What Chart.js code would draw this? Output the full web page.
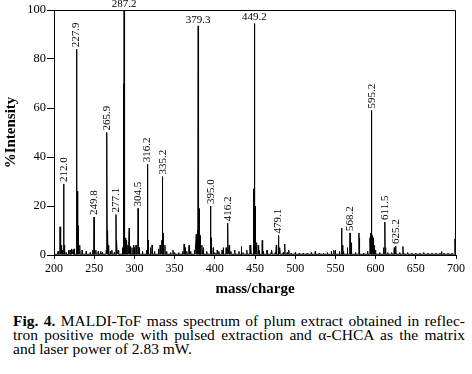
<!DOCTYPE html>
<html lang="en">
<head>
<meta charset="UTF-8">
<title>MALDI-ToF mass spectrum</title>
<script src="https://cdn.jsdelivr.net/npm/chart.js"></script>
<style>
  body { margin: 0; background: #fff; color: #000; font-family: 'Liberation Serif', 'Times New Roman', serif; }
  .chart-box { position: relative; width: 472px; height: 300px; }
  .caption { position: absolute; left: 13px; top: 314px; width: 452px; font-size: 15.5px; line-height: 14px; }
  .caption div { text-align: justify; text-align-last: justify; white-space: nowrap; }
  .caption div.last { text-align-last: left; }
</style>
</head>
<body>
<div class="chart-box"><canvas id="spectrum"></canvas></div>
<div class="caption">
  <div><b>Fig. 4.</b> MALDI-ToF mass spectrum of plum extract obtained in reflec-</div>
  <div>tron positive mode with pulsed extraction and α-CHCA as the matrix</div>
  <div class="last">and laser power of 2.83 mW.</div>
</div>
<script>
// labelled peaks (m/z, %intensity)
const labeledMz  = [212.0, 227.9, 249.8, 265.9, 277.1, 287.2, 304.5, 316.2, 335.2, 379.3, 395.0, 416.2, 449.2, 479.1, 568.2, 595.2, 611.5, 625.2];
const labeledInt = [29, 84, 15.5, 50, 16.5, 100, 19, 37, 32, 93.5, 20, 13, 94.5, 8, 9, 59, 13.5, 3.7];

// unlabelled peaks
const minorMz  = [207.5, 209, 213, 218, 222, 224, 229, 230.5, 232, 248, 252, 258, 266.8, 268, 272, 278,
                  286.5, 287.8, 289, 290.5, 292, 293.5, 297, 299, 302, 306, 317, 320, 322, 332, 334, 336, 338, 348,
                  361.8, 363, 368, 377, 378.5, 380, 381, 382, 384, 386, 396, 398, 403, 409, 410.5, 414, 418, 425,
                  433, 440, 443.8, 445, 448, 450, 451, 452, 454, 459, 465, 471, 476.5, 481, 487, 492, 525, 545, 548,
                  550, 557.7, 559, 565, 570, 579.3, 580, 593, 594, 596, 597, 598.5, 600, 610, 612.5, 623.2, 634,
                  640, 660, 682, 698.7];
const minorInt = [11.5, 4, 4, 2, 2.5, 2, 26, 12, 4, 2, 2, 1.5, 10, 4, 2, 6,
                  70, 50, 7, 6, 4, 11, 3, 4, 4, 3, 6, 3, 4, 4, 6, 9, 4, 2,
                  4.5, 3, 4, 8.5, 10, 60, 19, 8, 4, 3, 7, 3, 2, 2, 3, 3, 4, 2,
                  3.5, 2, 4, 3.5, 27, 20, 8, 5, 4, 6, 2, 2, 4, 3, 4.5, 2, 1.5, 1.5, 2,
                  2, 11, 4, 3, 5, 9, 7, 7, 9, 8, 7, 4, 2, 3, 3, 3, 3.5,
                  1, 1, 1.5, 6.5];

// baseline noise, one value every 5 m/z from 200 to 700
const noiseStart = 200, noiseStep = 5;
const noiseInt = [0.5, 1.5, 2, 1, 2, 2.5, 3, 2, 1.5, 1, 1.5, 1.5, 1, 2, 1.5, 1, 2, 3, 5, 3.5,
                  3, 2, 1.5, 2, 2.5, 1.5, 2.5, 3, 1.5, 1, 1, 1, 1.5, 1.5, 1.5, 2, 3, 2, 1.5, 1.5,
                  1, 1.5, 1, 1.5, 1.5, 1, 1.5, 1, 1.5, 3, 3, 2, 1.5, 1, 1, 1, 1.5, 1, 1, 0.8,
                  1, 0.8, 0.8, 0.8, 1, 1.2, 0.8, 0.8, 1, 1.2, 1.2, 1.5, 1.5, 1.5, 1, 1, 1, 0.8, 1.5, 4,
                  2, 1, 1, 1, 1, 1, 1, 0.8, 0.8, 0.8, 0.8, 0.8, 0.8, 0.8, 0.8, 0.8, 0.8, 0.8, 0.8, 0.8, 0.8];

const serif = "'Liberation Serif', 'Times New Roman', serif";

function spike(m, h) {
    return [{ x: m - 0.4, y: 0.3 }, { x: m, y: h }, { x: m + 0.4, y: 0.3 }];
}

let points = [];
labeledMz.forEach((m, i) => points.push(...spike(m, labeledInt[i])));
minorMz.forEach((m, i) => points.push(...spike(m, minorInt[i])));
noiseInt.forEach((v, i) => points.push(...spike(noiseStart + i * noiseStep, v)));
points.sort((a, b) => a.x - b.x);

// top and right edges of the plot box
const frame = {
    id: "frame",
    afterDraw(chart) {
        const { ctx, chartArea: a } = chart;
        ctx.save();
        ctx.strokeStyle = "#000";
        ctx.lineWidth = 1;
        ctx.beginPath();
        ctx.moveTo(Math.round(a.left) + 0.5, Math.round(a.top) + 0.5);
        ctx.lineTo(Math.round(a.right) - 0.5, Math.round(a.top) + 0.5);
        ctx.lineTo(Math.round(a.right) - 0.5, Math.round(a.bottom));
        ctx.stroke();
        ctx.restore();
    }
};

// m/z labels over the peaks
const peakLabels = {
    id: "peakLabels",
    afterDatasetsDraw(chart) {
        const { ctx, scales: { x, y } } = chart;
        ctx.save();
        ctx.fillStyle = "#000";
        ctx.font = "11px " + serif;
        labeledMz.forEach((m, i) => {
            const px = x.getPixelForValue(m);
            const py = y.getPixelForValue(labeledInt[i]);
            const text = m.toFixed(1);
            if (labeledInt[i] > 90) {
                ctx.textAlign = "center";
                ctx.textBaseline = "alphabetic";
                ctx.fillText(text, px, py - 3);
            } else {
                ctx.save();
                ctx.translate(px + 3, py - 2);
                ctx.rotate(-Math.PI / 2);
                ctx.textAlign = "left";
                ctx.textBaseline = "alphabetic";
                ctx.fillText(text, 0, 0);
                ctx.restore();
            }
        });
        ctx.restore();
    }
};

new Chart(document.getElementById("spectrum"), {
    type: "line",
    data: {
        datasets: [{
            data: points,
            borderColor: "#000",
            borderWidth: 1,
            pointRadius: 0,
            tension: 0,
            fill: false
        }]
    },
    options: {
        responsive: true,
        maintainAspectRatio: false,
        animation: false,
        layout: { padding: { top: 10, right: 16, left: 0, bottom: 0 } },
        plugins: { legend: { display: false }, tooltip: { enabled: false } },
        scales: {
            x: {
                type: "linear",
                min: 200,
                max: 700,
                afterFit(s) { s.height = 45; },
                ticks: { stepSize: 50, color: "#000", font: { family: serif, size: 12 }, padding: 3, maxRotation: 0 },
                grid: { drawOnChartArea: false, tickLength: 4, color: "#000" },
                border: { color: "#000" },
                title: { display: true, text: "mass/charge", color: "#000", font: { family: serif, size: 15, weight: "bold" }, padding: { top: 0, bottom: 2 } }
            },
            y: {
                min: 0,
                max: 100,
                afterFit(s) { s.width = 54; },
                ticks: { stepSize: 20, color: "#000", font: { family: serif, size: 12.5 }, padding: 1 },
                grid: { drawOnChartArea: false, tickLength: 7, color: "#000" },
                border: { color: "#000" },
                title: { display: true, text: "%Intensity", color: "#000", font: { family: serif, size: 15, weight: "bold" }, padding: { top: 2, bottom: 0 } }
            }
        }
    },
    plugins: [frame, peakLabels]
});
</script>
</body>
</html>
